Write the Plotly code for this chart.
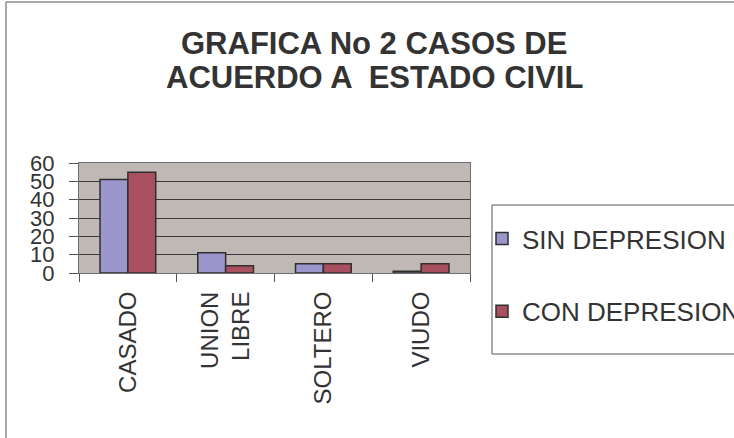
import plotly.graph_objects as go

categories = ["CASADO", "UNION<br>LIBRE", "SOLTERO", "VIUDO"]
sin_depresion = [51, 11, 5, 1]
con_depresion = [55, 4, 5, 5]
series_names = ["SIN DEPRESION", "CON DEPRESION"]
y_ticks = [0, 10, 20, 30, 40, 50, 60]
title_lines = ["GRAFICA No 2 CASOS DE", "ACUERDO A  ESTADO CIVIL"]

W, H = 734, 438
L, R, T, B = 79, 470, 163, 273
pw, ph = R - L, B - T

def px(x):
    return (x - L) / pw

def py(y):
    return (B - y) / ph

FONT = "Liberation Sans, Arial, sans-serif"
TXT = "#333333"

fig = go.Figure()
fig.add_bar(x=categories, y=sin_depresion, name=series_names[0],
            marker=dict(color="#9B96CB", line=dict(color="#2f2f2f", width=1.5)),
            legendgroup="a")
fig.add_bar(x=categories, y=con_depresion, name=series_names[1],
            marker=dict(color="#A8505F", line=dict(color="#2f2f2f", width=1.5)),
            legendgroup="b")

fig.update_layout(
    width=W, height=H,
    margin=dict(l=L, r=W - R, t=T, b=H - B, autoexpand=False),
    paper_bgcolor="white",
    plot_bgcolor="#C0B8B4",
    barmode="group", bargap=0.43, bargroupgap=0,
    font=dict(family=FONT, color=TXT),
    showlegend=True,
    legend=dict(x=px(482), y=py(215), xanchor="left", yanchor="top",
                font=dict(size=26, color=TXT, family=FONT),
                bgcolor="rgba(0,0,0,0)", borderwidth=0,
                tracegroupgap=36, traceorder="grouped"),
)

fig.update_yaxes(range=[0, 60], tickvals=y_ticks, ticktext=[str(v) for v in y_ticks],
                 showgrid=True, gridcolor="#3a3a3a", gridwidth=1,
                 ticks="outside", ticklen=9, tickcolor="#555555",
                 showline=True, linecolor="#6e6e6e", linewidth=1, mirror=True,
                 tickfont=dict(size=22, color=TXT, family=FONT),
                 ticklabelstandoff=10,
                 zeroline=False, fixedrange=True)
fig.update_xaxes(tickangle=-90, tickson="boundaries", ticks="outside", ticklen=8,
                 tickcolor="#555555", showline=True, linecolor="#6e6e6e", linewidth=1,
                 mirror=True, tickfont=dict(size=24, color=TXT, family=FONT),
                 ticklabelstandoff=8,
                 fixedrange=True)

# title lines
for i, line in enumerate(title_lines):
    fig.add_annotation(text="<b>" + line + "</b>", xref="paper", yref="paper",
                       x=px(374), y=py(44 + i * 33), xanchor="center", yanchor="middle",
                       showarrow=False, font=dict(size=31, color=TXT, family=FONT))

# outer chart border and legend box
fig.add_shape(type="rect", xref="paper", yref="paper",
              x0=px(6), x1=px(760), y0=py(460), y1=py(2),
              line=dict(color="#555555", width=1), layer="below")
fig.add_shape(type="rect", xref="paper", yref="paper",
              x0=px(492), x1=px(760), y0=py(354), y1=py(205),
              line=dict(color="#555555", width=1), layer="below")

fig.write_html("out.html", config={"displayModeBar": False},
               post_script="document.body.style.margin='0';document.body.style.overflow='hidden';")
